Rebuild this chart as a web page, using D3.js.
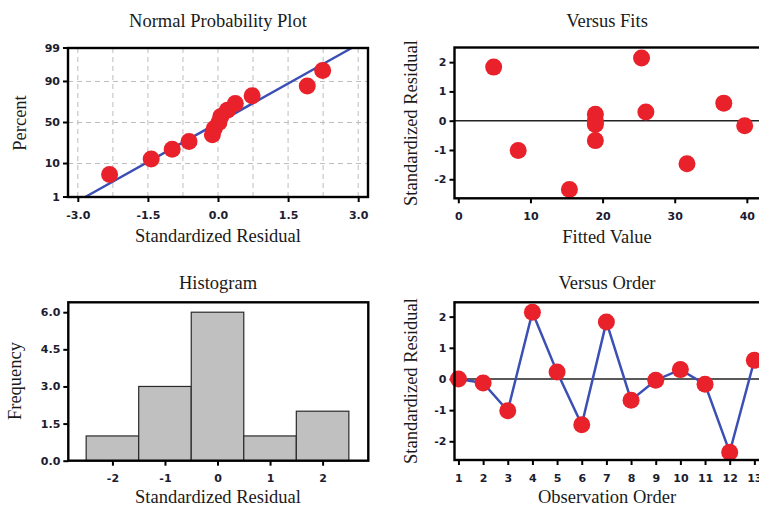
<!DOCTYPE html>
<head>
<meta charset="utf-8">
<script src="https://d3js.org/d3.v7.min.js"></script>
<style>
  body { margin: 0; background: #fff; }
  .title, .label { font-family: "Liberation Serif", serif; font-size: 18.5px; fill: #1a1a1a; text-anchor: middle; }
  .axis text { font-family: "DejaVu Sans", sans-serif; font-weight: bold; font-size: 11px; fill: #1c1c30; }
  .axis line { stroke: #000; stroke-width: 2px; }
  .axis path { display: none; }
  .frame { fill: none; stroke: #000; stroke-width: 2.4px; }
  .grid line { stroke: #bdbdbd; stroke-width: 1px; stroke-dasharray: 5,4; }
  .zero { stroke: #222; stroke-width: 1.5px; }
  .dot { fill: #e8212a; }
  .bar { fill: #c0c0c0; stroke: #2a2a2a; stroke-width: 1.2px; }
  .fitline, .orderline { fill: none; stroke: #3b4fb4; stroke-width: 2.5px; }
</style>
</head>
<body>
<script>
// normal probability plot (sorted residuals and their plotting percents)
var normResid = [-2.32, -1.43, -0.98, -0.62, -0.12, -0.08, 0.02, 0.06, 0.20, 0.37, 0.73, 1.91, 2.24];
var normPct = [5.2, 12.7, 20.1, 27.6, 35.1, 42.5, 50, 57.5, 64.9, 72.4, 79.9, 87.3, 94.8];
var fitLineResid = [-2.84, 2.86];
var fitLinePct = [1, 99];
var pctTicks = [1, 10, 50, 90, 99];
var normXTicks = [-3, -1.5, 0, 1.5, 3];
var normGrid = [-3, -2.25, -1.5, -0.75, 0, 0.75, 1.5, 2.25, 3];

// residuals in observation order, with their fitted values
var order = [1, 2, 3, 4, 5, 6, 7, 8, 9, 10, 11, 12, 13];
var resid = [0.0, -0.13, -1.02, 2.14, 0.22, -1.47, 1.83, -0.68, -0.04, 0.30, -0.17, -2.35, 0.60];
var fitted = [19.0, 19.0, 8.3, 25.4, 19.0, 31.7, 4.9, 19.0, 19.0, 26.0, 39.7, 15.4, 36.8];

// histogram
var binMid = [-2, -1, 0, 1, 2];
var freq = [1, 3, 6, 1, 2];
var freqTicks = [0, 1.5, 3, 4.5, 6];

var width = 759, height = 508;
var svg = d3.select("body").append("svg")
    .attr("width", width)
    .attr("height", height);

var loc = d3.formatLocale({decimal: ".", thousands: ",", grouping: [3], currency: ["", ""], minus: "-"});
var fmt0 = loc.format("d"), fmt1 = loc.format(".1f");

// inverse normal cdf (Acklam)
function probit(p) {
  var a = [-39.69683028665376, 220.9460984245205, -275.9285104469687, 138.357751867269, -30.66479806614716, 2.506628277459239];
  var b = [-54.47609879822406, 161.5858368580409, -155.6989798598866, 66.80131188771972, -13.28068155288572];
  var c = [-0.007784894002430293, -0.3223964580411365, -2.400758277161838, -2.549732539343734, 4.374664141464968, 2.938163982698783];
  var d = [0.007784695709041462, 0.3224671290700398, 2.445134137142996, 3.754408661907416];
  var q, r;
  if (p < 0.02425) {
    q = Math.sqrt(-2 * Math.log(p));
    return (((((c[0]*q+c[1])*q+c[2])*q+c[3])*q+c[4])*q+c[5]) / ((((d[0]*q+d[1])*q+d[2])*q+d[3])*q+1);
  } else if (p > 1 - 0.02425) {
    q = Math.sqrt(-2 * Math.log(1 - p));
    return -(((((c[0]*q+c[1])*q+c[2])*q+c[3])*q+c[4])*q+c[5]) / ((((d[0]*q+d[1])*q+d[2])*q+d[3])*q+1);
  }
  q = p - 0.5; r = q * q;
  return (((((a[0]*r+a[1])*r+a[2])*r+a[3])*r+a[4])*r+a[5])*q / (((((b[0]*r+b[1])*r+b[2])*r+b[3])*r+b[4])*r+1);
}

function panel(x, y, xTicks, xFmt, yTicks, yFmt) {
  var g = svg.append("g");
  var x0 = x.range()[0], x1 = x.range()[1], y0 = y.range()[0], y1 = y.range()[1];
  g.append("g")
      .attr("class", "axis")
      .attr("transform", "translate(0," + y0 + ")")
      .call(d3.axisBottom(x).tickValues(xTicks).tickFormat(xFmt).tickSize(5).tickPadding(9).tickSizeOuter(0));
  g.append("g")
      .attr("class", "axis")
      .attr("transform", "translate(" + x0 + ",0)")
      .call(d3.axisLeft(y).tickValues(yTicks).tickFormat(yFmt).tickSize(5).tickPadding(3).tickSizeOuter(0));
  g.frame = function() {
    g.append("rect")
        .attr("class", "frame")
        .attr("x", x0).attr("y", y1)
        .attr("width", x1 - x0).attr("height", y0 - y1);
  };
  return g;
}

function titles(cx, ty, title, xlab, xly, ylx, yly, ylab) {
  svg.append("text").attr("class", "title").attr("x", cx).attr("y", ty).text(title);
  svg.append("text").attr("class", "label").attr("x", cx).attr("y", xly).text(xlab);
  svg.append("text").attr("class", "label")
      .attr("transform", "translate(" + ylx + "," + yly + ") rotate(-90)")
      .text(ylab);
}

// ---- Normal Probability Plot
var nx = d3.scaleLinear().domain([-3.21, 3.21]).range([68, 368]);
var nzy = d3.scaleLinear().domain([probit(0.01), probit(0.99)]).range([197, 48]);
var ny = function(p) { return nzy(probit(p / 100)); };

var np = svg.append("g");
np.append("g").attr("class", "grid").selectAll("line")
    .data(normGrid).enter().append("line")
    .attr("x1", function(d) { return nx(d); }).attr("x2", function(d) { return nx(d); })
    .attr("y1", 48).attr("y2", 197);
np.append("g").attr("class", "grid").selectAll("line")
    .data([10, 50, 90]).enter().append("line")
    .attr("x1", 68).attr("x2", 368)
    .attr("y1", function(d) { return ny(d); }).attr("y2", function(d) { return ny(d); });

np.append("g").attr("class", "axis").attr("transform", "translate(0,197)")
    .call(d3.axisBottom(nx).tickValues(normXTicks).tickFormat(fmt1).tickSize(5).tickPadding(9).tickSizeOuter(0));
var nAxisY = np.append("g").attr("class", "axis");
nAxisY.selectAll("line").data(pctTicks).enter().append("line")
    .attr("x1", 63).attr("x2", 68)
    .attr("y1", function(d) { return ny(d); }).attr("y2", function(d) { return ny(d); });
nAxisY.selectAll("text").data(pctTicks).enter().append("text")
    .attr("x", 60).attr("y", function(d) { return ny(d); })
    .attr("dy", "0.35em").attr("text-anchor", "end")
    .text(function(d) { return d; });

np.append("path").attr("class", "fitline")
    .attr("d", d3.line()([[nx(fitLineResid[0]), ny(fitLinePct[0])], [nx(fitLineResid[1]), ny(fitLinePct[1])]]));
np.selectAll(".dot").data(normResid).enter().append("circle")
    .attr("class", "dot").attr("r", 8.5)
    .attr("cx", function(d) { return nx(d); })
    .attr("cy", function(d, i) { return ny(normPct[i]); });
np.append("rect").attr("class", "frame").attr("x", 68).attr("y", 48).attr("width", 300).attr("height", 149);
titles(218, 27, "Normal Probability Plot", "Standardized Residual", 242, 26, 123, "Percent");

// ---- Versus Fits
var fx = d3.scaleLinear().domain([-0.53, 42.1]).range([454.5, 762]);
var fy = d3.scaleLinear().domain([-2.65, 2.5]).range([198.3, 47.5]);
var fp = panel(fx, fy, [0, 10, 20, 30, 40], fmt0, [-2, -1, 0, 1, 2], fmt0);
fp.append("line").attr("class", "zero")
    .attr("x1", 454.5).attr("x2", 762).attr("y1", fy(0)).attr("y2", fy(0));
fp.selectAll(".dot").data(resid).enter().append("circle")
    .attr("class", "dot").attr("r", 8.5)
    .attr("cx", function(d, i) { return fx(fitted[i]); })
    .attr("cy", function(d) { return fy(d); });
fp.frame();
titles(607, 27, "Versus Fits", "Fitted Value", 243, 417, 123, "Standardized Residual");

// ---- Histogram
var hx = d3.scaleLinear().domain([-2.84, 2.87]).range([68.3, 368.3]);
var hy = d3.scaleLinear().domain([0, 6.4]).range([460.7, 302.3]);
var hp = panel(hx, hy, binMid, fmt0, freqTicks, fmt1);
hp.selectAll(".bar").data(freq).enter().append("rect")
    .attr("class", "bar")
    .attr("x", function(d, i) { return hx(binMid[i] - 0.5); })
    .attr("width", function(d, i) { return hx(binMid[i] + 0.5) - hx(binMid[i] - 0.5); })
    .attr("y", function(d) { return hy(d); })
    .attr("height", function(d) { return hy(0) - hy(d); });
hp.frame();
titles(218, 289, "Histogram", "Standardized Residual", 503, 21, 381, "Frequency");

// ---- Versus Order
var ox = d3.scaleLinear().domain([0.84, 13.31]).range([454.5, 762]);
var oy = d3.scaleLinear().domain([-2.6, 2.46]).range([460, 302.3]);
var op = panel(ox, oy, order, fmt0, [-2, -1, 0, 1, 2], fmt0);
op.append("line").attr("class", "zero")
    .attr("x1", 454.5).attr("x2", 762).attr("y1", oy(0)).attr("y2", oy(0));
op.append("path").attr("class", "orderline")
    .attr("d", d3.line().x(function(d, i) { return ox(order[i]); }).y(function(d) { return oy(d); })(resid));
op.selectAll(".dot").data(resid).enter().append("circle")
    .attr("class", "dot").attr("r", 8.5)
    .attr("cx", function(d, i) { return ox(order[i]); })
    .attr("cy", function(d) { return oy(d); });
op.frame();
titles(607, 289, "Versus Order", "Observation Order", 503, 417, 381, "Standardized Residual");
</script>
</body>
